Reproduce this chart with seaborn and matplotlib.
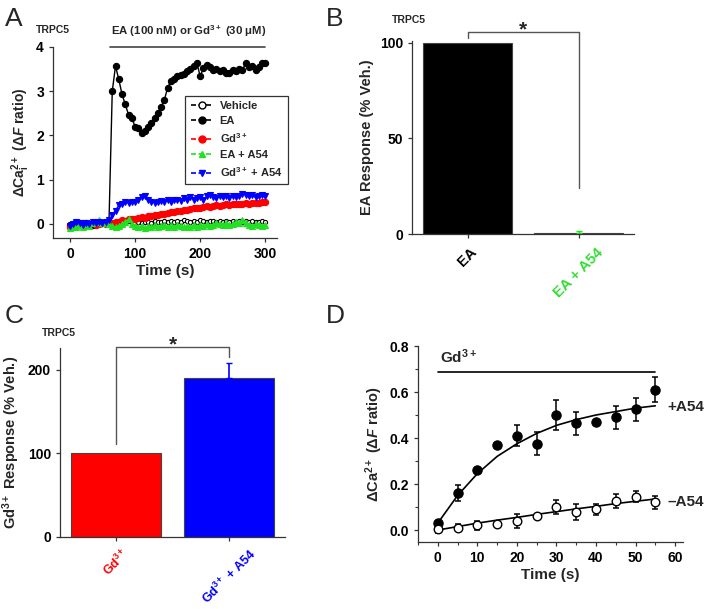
import seaborn as sns
import matplotlib.pyplot as plt
from matplotlib.lines import Line2D
from matplotlib.ticker import AutoMinorLocator
import pandas as pd

# Panel A: TRPC5 Ca2+ traces, one point every 5 s
time_s = list(range(0, 305, 5))
vehicle = [0.0, -0.02, 0.02, 0.0, 0.03, 0.0, -0.02, 0.02, 0.0, 0.03, 0.02, 0.0,
           0.02, 0.0, 0.03, 0.02, 0.05, 0.03, 0.06, 0.05, 0.03, 0.05, 0.02, 0.04,
           0.05, 0.03, 0.06, 0.05, 0.04, 0.07, 0.05, 0.06, 0.04, 0.07, 0.05, 0.08,
           0.06, 0.05, 0.07, 0.05, 0.08, 0.06, 0.05, 0.07, 0.06, 0.04, 0.07, 0.05,
           0.06, 0.04, 0.07, 0.05, 0.06, 0.04, 0.07, 0.05, 0.06, 0.04, 0.05, 0.06,
           0.04]
ea = [-0.02, 0.0, 0.03, 0.01, -0.02, 0.02, 0.0, -0.03, 0.02, 0.01, 0.03, 0.02,
      0.05, 3.0, 3.57, 3.27, 2.93, 2.7, 2.47, 2.4, 2.2, 2.17, 2.05, 2.1,
      2.2, 2.28, 2.4, 2.5, 2.65, 2.8, 3.08, 3.23, 3.28, 3.34, 3.36, 3.4,
      3.45, 3.5, 3.57, 3.64, 3.34, 3.52, 3.6, 3.55, 3.49, 3.5, 3.45, 3.48,
      3.42, 3.42, 3.47, 3.45, 3.5, 3.48, 3.64, 3.55, 3.58, 3.49, 3.55, 3.64,
      3.63]
gd = [-0.08, -0.05, 0.0, -0.03, 0.02, -0.02, 0.0, 0.02, -0.02, 0.0, 0.02, 0.0,
      0.02, 0.03, 0.05, 0.05, 0.08, 0.07, 0.1, 0.1, 0.12, 0.13, 0.15, 0.14,
      0.17, 0.18, 0.2, 0.2, 0.22, 0.23, 0.25, 0.26, 0.27, 0.28, 0.3, 0.31,
      0.32, 0.33, 0.35, 0.36, 0.35, 0.38, 0.4, 0.39, 0.4, 0.42, 0.41, 0.43,
      0.44, 0.43, 0.45, 0.44, 0.46, 0.45, 0.47, 0.46, 0.48, 0.47, 0.48, 0.5,
      0.49]
ea_a54 = [-0.1, -0.05, -0.08, -0.02, -0.06, 0.0, -0.04, 0.02, 0.05, 0.08, 0.03, 0.05,
          0.0, -0.05, -0.08, -0.05, 0.0, 0.05, 0.1, 0.0, -0.05, -0.08, -0.05, -0.1,
          -0.05, -0.08, -0.03, -0.07, -0.05, -0.02, -0.06, -0.03, -0.07, -0.02, -0.05, -0.08,
          -0.04, -0.06, -0.03, -0.07, -0.02, -0.05, 0.0, -0.04, -0.02, 0.03, 0.0, -0.03,
          0.02, -0.02, 0.0, 0.05, 0.02, 0.08, 0.03, -0.02, -0.05, 0.0, -0.03, -0.05,
          -0.03]
gd_a54 = [-0.05, 0.0, 0.05, 0.02, -0.03, 0.03, 0.0, 0.04, 0.02, 0.05, 0.03, 0.05,
          0.08, 0.2, 0.3, 0.42, 0.45, 0.5, 0.47, 0.5, 0.5, 0.55, 0.6, 0.62,
          0.55, 0.5, 0.48, 0.5, 0.52, 0.5, 0.55, 0.5, 0.53, 0.55, 0.52, 0.58,
          0.55, 0.6, 0.55, 0.58, 0.6, 0.55, 0.62, 0.65, 0.6, 0.58, 0.62, 0.6,
          0.63, 0.58, 0.62, 0.6, 0.63, 0.68, 0.65, 0.62, 0.65, 0.6, 0.62, 0.65,
          0.63]

# Panel B: EA response
b_labels = ['EA', 'EA + A54']
b_values = [100, 0.4]
b_err = [0, 1.2]

# Panel C: Gd3+ response
c_labels = ['Gd$^{3+}$', 'Gd$^{3+}$ + A54']
c_values = [100, 190]
c_err = [0, 18]

# Panel D: Gd3+ rise with / without A54
d_time = [0, 5, 10, 15, 20, 25, 30, 35, 40, 45, 50, 55]
d_plus = [0.03, 0.16, 0.26, 0.37, 0.41, 0.375, 0.50, 0.465, 0.47, 0.49, 0.525, 0.61]
d_plus_err = [0.01, 0.035, 0.01, 0.01, 0.045, 0.05, 0.065, 0.05, 0.01, 0.05, 0.05, 0.055]
d_minus = [0.005, 0.01, 0.02, 0.025, 0.04, 0.06, 0.10, 0.08, 0.09, 0.125, 0.145, 0.12]
d_minus_err = [0.02, 0.015, 0.02, 0.01, 0.03, 0.01, 0.03, 0.035, 0.025, 0.03, 0.025, 0.03]
d_fit_plus = [0.03, 0.15, 0.245, 0.32, 0.375, 0.42, 0.455, 0.48, 0.50, 0.515, 0.53, 0.54]
d_fit_minus = [0.0, 0.015, 0.03, 0.043, 0.055, 0.068, 0.08, 0.092, 0.103, 0.115, 0.125, 0.135]

RED = '#ff0000'
BLUE = '#0000ff'
GREEN = '#22e022'
SPINE = '#333333'

sns.set_theme(style="ticks")
plt.rcParams['font.family'] = ['Liberation Sans', 'DejaVu Sans']
plt.rcParams['font.weight'] = 'bold'
plt.rcParams['axes.labelweight'] = 'bold'
plt.rcParams['mathtext.fontset'] = 'custom'
plt.rcParams['mathtext.rm'] = 'Liberation Sans:bold'
plt.rcParams['mathtext.it'] = 'Liberation Sans:italic:bold'
plt.rcParams['mathtext.bf'] = 'Liberation Sans:bold'
plt.rcParams['xtick.labelsize'] = 10
plt.rcParams['ytick.labelsize'] = 10
plt.rcParams['xtick.major.size'] = 3
plt.rcParams['ytick.major.size'] = 3

fig = plt.figure(figsize=(7.09, 6.09), dpi=100)
W, H = 709, 609


def add_ax(left, top, right, bottom):
    ax = fig.add_axes([left / W, 1 - bottom / H, (right - left) / W, (bottom - top) / H])
    sns.despine(ax=ax)
    for s in ['left', 'bottom']:
        ax.spines[s].set_color(SPINE)
        ax.spines[s].set_linewidth(0.9)
    ax.tick_params(colors=SPINE, labelcolor='black', width=0.9)
    return ax


def bracket(ax, x0, x1, y_top, y_left, y_right):
    ax.plot([x0, x0, x1, x1], [y_left, y_top, y_top, y_right], color='#555555',
            lw=1.0, clip_on=False)
    ax.annotate('*', xy=((x0 + x1) / 2, y_top), xytext=(0, -2.5),
                textcoords='offset points', ha='center', va='baseline',
                fontsize=15, fontweight='bold', annotation_clip=False)


def style_labels(ax, colors, size):
    for lab, col in zip(ax.get_xticklabels(), colors):
        lab.set_rotation(45)
        lab.set_ha('center')
        lab.set_color(col)
        lab.set_fontsize(size)


# ---------------- A ----------------
axA = add_ax(53, 47, 277, 238)
traces = [
    ('Vehicle', vehicle, 'black', 'o', 'white', 3),
    ('EA', ea, 'black', 'o', 'black', 4.5),
    ('Gd$^{3+}$', gd, RED, 'o', RED, 4.5),
    ('EA + A54', ea_a54, GREEN, '^', GREEN, 4.5),
    ('Gd$^{3+}$ + A54', gd_a54, BLUE, 'v', BLUE, 4.5),
]
handles = []
for name, vals, col, mk, face, ms in traces:
    sns.lineplot(x=time_s, y=vals, ax=axA, color=col, marker=mk, markersize=ms,
                 markerfacecolor=face, markeredgecolor=col, markeredgewidth=0.8,
                 lw=1.0)
    handles.append(Line2D([0], [0], color=col, ls=(0, (3, 1.5)), lw=1.2, marker=mk,
                          markersize=5, markerfacecolor=face, markeredgecolor=col,
                          label=name))
axA.set_xlim(-26, 318)
axA.set_ylim(-0.32, 4.0)
axA.set_xticks([0, 100, 200, 300])
axA.set_yticks([0, 1, 2, 3, 4])
axA.set_xlabel('Time (s)', fontsize=11, labelpad=2)
axA.set_ylabel('ΔCa$_\\mathrm{i}^\\mathrm{2+}$ (Δ$\\mathit{F}$ ratio)', fontsize=10,
               labelpad=3)
axA.plot([61, 300], [4.0, 4.0], color='#444444', lw=1.2, clip_on=False)
axA.text(182, 4.18, 'EA (100 nM) or Gd$^{3+}$ (30 μM)', ha='center', va='bottom',
         fontsize=8.2)
leg = axA.legend(handles=handles, loc='upper left', bbox_to_anchor=(0.565, 0.775),
                 fontsize=8, frameon=True, fancybox=False, framealpha=1,
                 edgecolor='#333333', handlelength=2.0, labelspacing=0.45,
                 borderpad=0.5, handletextpad=0.6)
leg.get_frame().set_linewidth(0.9)

# ---------------- B ----------------
axB = add_ax(412, 41, 634, 234)
sns.barplot(x=b_labels, y=b_values, hue=b_labels, palette=['black', 'black'],
            legend=False, ax=axB, width=0.8, saturation=1, edgecolor='#444444',
            linewidth=0.8)
axB.errorbar([1], [b_values[1]], yerr=[[0], [b_err[1]]], fmt='none', ecolor=GREEN,
             capsize=2, elinewidth=1)
axB.set_ylim(0, 101)
axB.set_xlim(-0.5, 1.5)
axB.set_yticks([0, 50, 100])
axB.set_ylabel('EA Response (% Veh.)', fontsize=10.5, labelpad=4)
axB.set_xlabel('')
axB.tick_params(axis='x', pad=5)
style_labels(axB, ['black', '#33dd33'], 10.5)
bracket(axB, 0, 1, 105.8, 102.6, 24)

# ---------------- C ----------------
axC = add_ax(60, 348, 285, 537)
sns.barplot(x=c_labels, y=c_values, hue=c_labels, palette=[RED, BLUE], legend=False,
            ax=axC, width=0.8, saturation=1, edgecolor='#444444', linewidth=0.8)
axC.errorbar([1], [c_values[1]], yerr=[[0], [c_err[1]]], fmt='none', ecolor=BLUE,
             capsize=2, elinewidth=1.2)
axC.set_ylim(0, 226)
axC.set_xlim(-0.5, 1.5)
axC.set_yticks([0, 100, 200])
axC.set_ylabel('Gd$^{3+}$ Response (% Veh.)', fontsize=10.5, labelpad=4)
axC.set_xlabel('')
axC.tick_params(axis='x', pad=4)
style_labels(axC, [RED, BLUE], 9)
bracket(axC, 0, 1, 227.5, 111, 215)

# ---------------- D ----------------
axD = add_ax(418, 346, 683, 542)
sns.lineplot(x=d_time, y=d_fit_plus, ax=axD, color='black', lw=1.2)
sns.lineplot(x=d_time, y=d_fit_minus, ax=axD, color='black', lw=1.2)
axD.errorbar(d_time, d_plus, yerr=d_plus_err, fmt='none', ecolor='black', capsize=2.5,
             elinewidth=1.1, capthick=1.1)
axD.errorbar(d_time, d_minus, yerr=d_minus_err, fmt='none', ecolor='black', capsize=2.5,
             elinewidth=1.1, capthick=1.1)
sns.scatterplot(x=d_time, y=d_plus, ax=axD, color='black', s=45, edgecolor='black',
                linewidth=0.8, zorder=4)
sns.scatterplot(x=d_time, y=d_minus, ax=axD, color='white', s=38, edgecolor='black',
                linewidth=1.0, zorder=4)
axD.set_xlim(-5, 62)
axD.set_ylim(-0.052, 0.8)
axD.set_xticks([0, 10, 20, 30, 40, 50, 60])
axD.set_yticks([0.0, 0.2, 0.4, 0.6, 0.8])
axD.set_yticklabels(['0.0', '0.2', '0.4', '0.6', '0.8'])
axD.xaxis.set_minor_locator(AutoMinorLocator(2))
axD.yaxis.set_minor_locator(AutoMinorLocator(2))
axD.tick_params(which='minor', length=2, colors=SPINE, width=0.8)
axD.set_xlabel('Time (s)', fontsize=11, labelpad=2)
axD.set_ylabel('ΔCa$^\\mathrm{2+}$ (Δ$\\mathit{F}$ ratio)', fontsize=10.5, labelpad=3)
axD.plot([0, 55], [0.687, 0.687], color='black', lw=1.2)
axD.text(0.5, 0.715, 'Gd$^{3+}$', ha='left', va='bottom', fontsize=11)
axD.text(58, 0.535, '+A54', ha='left', va='center', fontsize=11)
axD.text(58, 0.12, '–A54', ha='left', va='center', fontsize=11)

# panel letters and TRPC5 tags
for txt, x, y in [('A', 5, 7), ('B', 326, 7), ('C', 5, 304), ('D', 326, 304)]:
    fig.text(x / W, 1 - y / H, txt, fontsize=19, fontweight='normal', va='top', ha='left')
for x, y in [(36, 30), (392, 20), (42, 333)]:
    fig.text(x / W, 1 - y / H, 'TRPC5', fontsize=7.5, va='center', ha='left')

fig.savefig('out.png', dpi=100)
